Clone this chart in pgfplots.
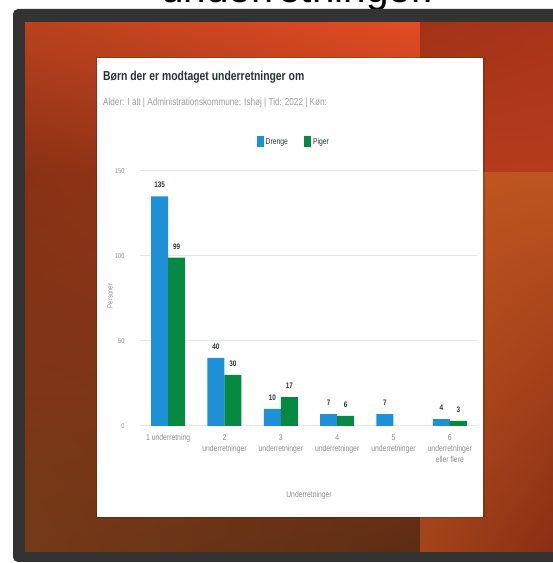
\documentclass[border=0pt]{standalone}
\usepackage{pgfplots}
\pgfplotsset{compat=1.18}
\usetikzlibrary{shadings}
\usepackage{fontspec}
\setmainfont{Liberation Sans}
\newfontfamily\cond[FakeStretch=0.8]{Liberation Sans}

\definecolor{framec}{HTML}{333333}
\definecolor{luL}{HTML}{B9411E}
\definecolor{luR}{HTML}{E24C23}
\definecolor{lmL}{HTML}{8A3114}
\definecolor{lmR}{HTML}{A8391A}
\definecolor{lbL}{HTML}{733A18}
\definecolor{lbR}{HTML}{5C2D14}
\definecolor{ruL}{HTML}{A23216}
\definecolor{ruR}{HTML}{A8351A}
\definecolor{rmL}{HTML}{B63B1C}
\definecolor{rlL}{HTML}{C0561F}
\definecolor{rlR}{HTML}{BE5420}
\definecolor{rbL}{HTML}{A4441A}
\definecolor{rbR}{HTML}{8A2E14}
\definecolor{boy}{HTML}{1E90D6}
\definecolor{girl}{HTML}{088941}
\definecolor{gridc}{HTML}{E2E8EA}
\definecolor{tickc}{HTML}{8C8C8C}
\definecolor{titc}{HTML}{263434}
\definecolor{labc}{HTML}{2E3838}

\begin{document}
\begin{tikzpicture}[x=1pt,y=1pt]
\useasboundingbox (0,0) rectangle (553,563);
\begin{scope}
\clip (0,0) rectangle (553,563);
\fill[white] (0,0) rectangle (553,563);
\node[anchor=base west, inner sep=0, font=\fontsize{40.5}{40.5}\selectfont] at (161,560) {underretninger.};
\fill[framec, rounded corners=5pt] (13,1) rectangle (590,554);
% background
\shade[upper left=luL, upper right=luR, lower left=lmL, lower right=lmR] (25,390) rectangle (420,540);
\shade[upper left=lmL, upper right=lmR, lower left=lbL, lower right=lbR] (25,11) rectangle (420,390.5);
\shade[upper left=ruL, upper right=ruR, lower left=rmL, lower right=rmL] (420,390) rectangle (553,540);
\shade[upper left=rlL, upper right=rlR, lower left=rbL, lower right=rbR] (420,11) rectangle (553,390);
\end{scope}
% panel
\fill[black, opacity=0.15] (96,45) rectangle (484.5,506);
\fill[white] (97,46) rectangle (483,505);
\node[anchor=west, inner sep=0, text=titc, font=\cond\bfseries\fontsize{13}{13}\selectfont] at (103,486) {Børn der er modtaget underretninger om};
\node[anchor=west, inner sep=0, text=tickc!85, font=\cond\fontsize{10.2}{10.2}\selectfont] at (103,460) {Alder: I alt | Administrationskommune: Ishøj | Tid: 2022 | Køn:};

\begin{axis}[
at={(140pt,137pt)}, anchor=south west,
scale only axis, width=338pt, height=255pt,
ymin=0, ymax=150, xmin=-0.5, xmax=5.5,
ybar=0pt, bar width=17pt,
axis line style={draw=none}, major tick length=0pt,
ytick={0,50,100,150}, ymajorgrids,
grid style={gridc, line width=1pt},
xtick={0,1,2,3,4,5},
xticklabels={1 underretning, {2\\underretninger}, {3\\underretninger}, {4\\underretninger}, {5\\underretninger}, {6\\underretninger\\eller flere}},
x tick label style={align=center, text=tickc, font=\cond\fontsize{8.5}{11}\selectfont, yshift=-5pt},
y tick label style={text=tickc, font=\cond\fontsize{7}{7}\selectfont},
yticklabel style={xshift=-12pt},
/pgf/number format/assume math mode=true,
xlabel={Underretninger}, ylabel={Personer},
every axis x label/.style={at={(axis description cs:0.5,0)}, yshift=-69pt, anchor=center, text=tickc, font=\cond\fontsize{8.5}{8.5}\selectfont},
every axis y label/.style={at={(axis description cs:0,0.51)}, xshift=-30pt, rotate=90, anchor=center, text=tickc, font=\cond\fontsize{7.5}{7.5}\selectfont},
nodes near coords,
every node near coord/.append style={text=labc, font=\cond\bfseries\fontsize{8}{8}\selectfont, yshift=5pt},
legend columns=2,
legend style={at={(0.455,1.114)}, anchor=center, draw=none, fill=none, text=titc, font=\cond\fontsize{8.5}{8.5}\selectfont, /tikz/every even column/.append style={column sep=14pt}},
legend image code/.code={\fill[#1, draw=none] (0pt,-5.5pt) rectangle (7pt,5.5pt);},
]
\addplot[fill=boy, draw=none] coordinates {(0,135) (1,40) (2,10) (3,7) (4,7) (5,4)};
\addplot[fill=girl, draw=none] coordinates {(0,99) (1,30) (2,17) (3,6) (5,3)};
\legend{Drenge, Piger}
\end{axis}
\end{tikzpicture}
\end{document}
